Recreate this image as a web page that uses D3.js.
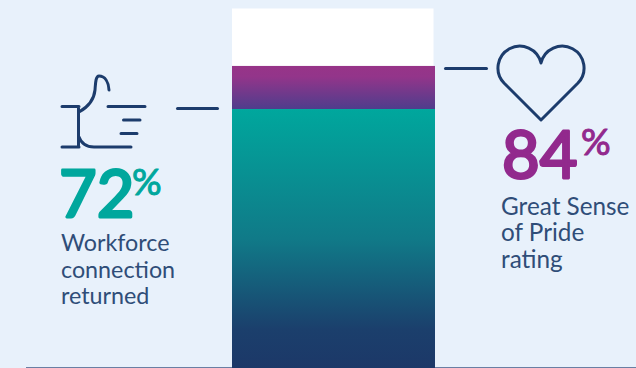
<!DOCTYPE html>
<html>
<head>
<meta charset="utf-8">
<script src="https://cdn.jsdelivr.net/npm/d3@7/dist/d3.min.js"></script>
<style>
  html, body { margin: 0; padding: 0; background: #e8f1fb; }
  svg { display: block; }
</style>
</head>
<body>
<svg id="chart" width="636" height="368"></svg>
<script>
const connectionLabel = ["Workforce", "connection", "returned"];
const prideLabel = ["Great Sense", "of Pride", "rating"];
const connectionValue = 72;
const prideValue = 84;
const fullScale = 100;

const navy = "#1c3c6c";
const teal = "#00a79d";
const purple = "#92298d";
const labelInk = "#2f4d78";

const svg = d3.select("#chart");
const y = d3.scaleLinear().domain([0, fullScale]).range([367.5, 8.5]);
const x = d3.scaleBand().domain(["bar"]).range([232, 435]);

const defs = svg.append("defs");
function verticalGradient(id, stops) {
  const g = defs.append("linearGradient").attr("id", id)
    .attr("x1", 0).attr("y1", 0).attr("x2", 0).attr("y2", 1);
  stops.forEach(([o, c]) => g.append("stop").attr("offset", o).attr("stop-color", c));
}
verticalGradient("prideFill", [[0, "#973488"], [0.25, "#93358a"], [1, "#4f3d8c"]]);
verticalGradient("connectionFill", [[0, "#00a79d"], [0.5, "#107a88"], [0.85, "#1b3f6c"], [1, "#1c3868"]]);

// Baseline across the full width, the column sits on top of it
svg.append("line")
  .attr("x1", 26).attr("x2", 636)
  .attr("y1", 367.5).attr("y2", 367.5)
  .attr("stroke", "#6a7fa3").attr("stroke-width", 1.2);

// Stacked column: remainder, pride band, connection band
const bands = [
  { from: prideValue, to: fullScale, fill: "#ffffff", inset: 1.5 },
  { from: connectionValue, to: prideValue, fill: "url(#prideFill)", inset: 0 },
  { from: 0, to: connectionValue, fill: "url(#connectionFill)", inset: 0 }
];
svg.selectAll("rect.band").data(bands).join("rect")
  .attr("class", "band")
  .attr("x", x("bar"))
  .attr("width", d => x.bandwidth() - d.inset)
  .attr("y", d => y(d.to))
  .attr("height", d => y(d.from) - y(d.to) + (d.from === 0 ? 1 : 0))
  .attr("fill", d => d.fill);

const icons = svg.append("g")
  .attr("fill", "none").attr("stroke", navy)
  .attr("stroke-width", 3).attr("stroke-linecap", "round").attr("stroke-linejoin", "round");

// Leader lines
icons.append("line").attr("x1", 177.5).attr("x2", 217.5).attr("y1", 108.5).attr("y2", 108.5);
icons.append("line").attr("x1", 445.5).attr("x2", 486.5).attr("y1", 68.5).attr("y2", 68.5);

// Thumbs-up glyph
icons.append("path").attr("d",
  "M62,106.5H79 M62,147H79 M78.5,106.5V147 " +
  "M79,112 C88,107 94,100 95,90 C95.5,84 95.5,76 99,76 C105,76 108.5,82 109,90 " +
  "M78.5,136 C81,143 86,147 94,147 H131 " +
  "M108,106.5H145 M123.5,120H140 M121,133.5H137");

// Heart glyph: two circular lobes meeting at a point
icons.append("path").attr("d",
  "M541,120 L504,83 A21.8,21.8 0 1 1 541,63 A21.8,21.8 0 1 1 578,83 Z");

// Big figures: regular weight thickened with a round-joined stroke
function figure(text, xp, yp, color) {
  svg.append("text").attr("x", xp).attr("y", yp).text(text)
    .attr("font-family", "Lato").attr("font-weight", 400).attr("font-size", 65)
    .attr("fill", color).attr("stroke", color)
    .attr("stroke-width", 2.8).attr("stroke-linejoin", "round");
}
function percent(xp, yp, color) {
  svg.append("text").attr("x", xp).attr("y", yp).text("%")
    .attr("font-family", "Lato").attr("font-weight", 400).attr("font-size", 37)
    .attr("fill", color).attr("stroke", color)
    .attr("stroke-width", 1).attr("stroke-linejoin", "round");
}
figure(String(connectionValue), 59, 216.5, teal);
percent(132, 195, teal);
figure(String(prideValue), 502, 177.5, purple);
percent(581, 155, purple);

// Captions
function caption(lines, xp, yp, size) {
  svg.append("g").selectAll("text").data(lines).join("text")
    .attr("x", xp).attr("y", (d, i) => yp + i * 26.5)
    .attr("font-family", "Lato").attr("font-weight", 400).attr("font-size", size)
    .attr("fill", labelInk).text(d => d);
}
caption(connectionLabel, 61, 251, 23.3);
caption(prideLabel, 501, 214.5, 24.3);
</script>
</body>
</html>
